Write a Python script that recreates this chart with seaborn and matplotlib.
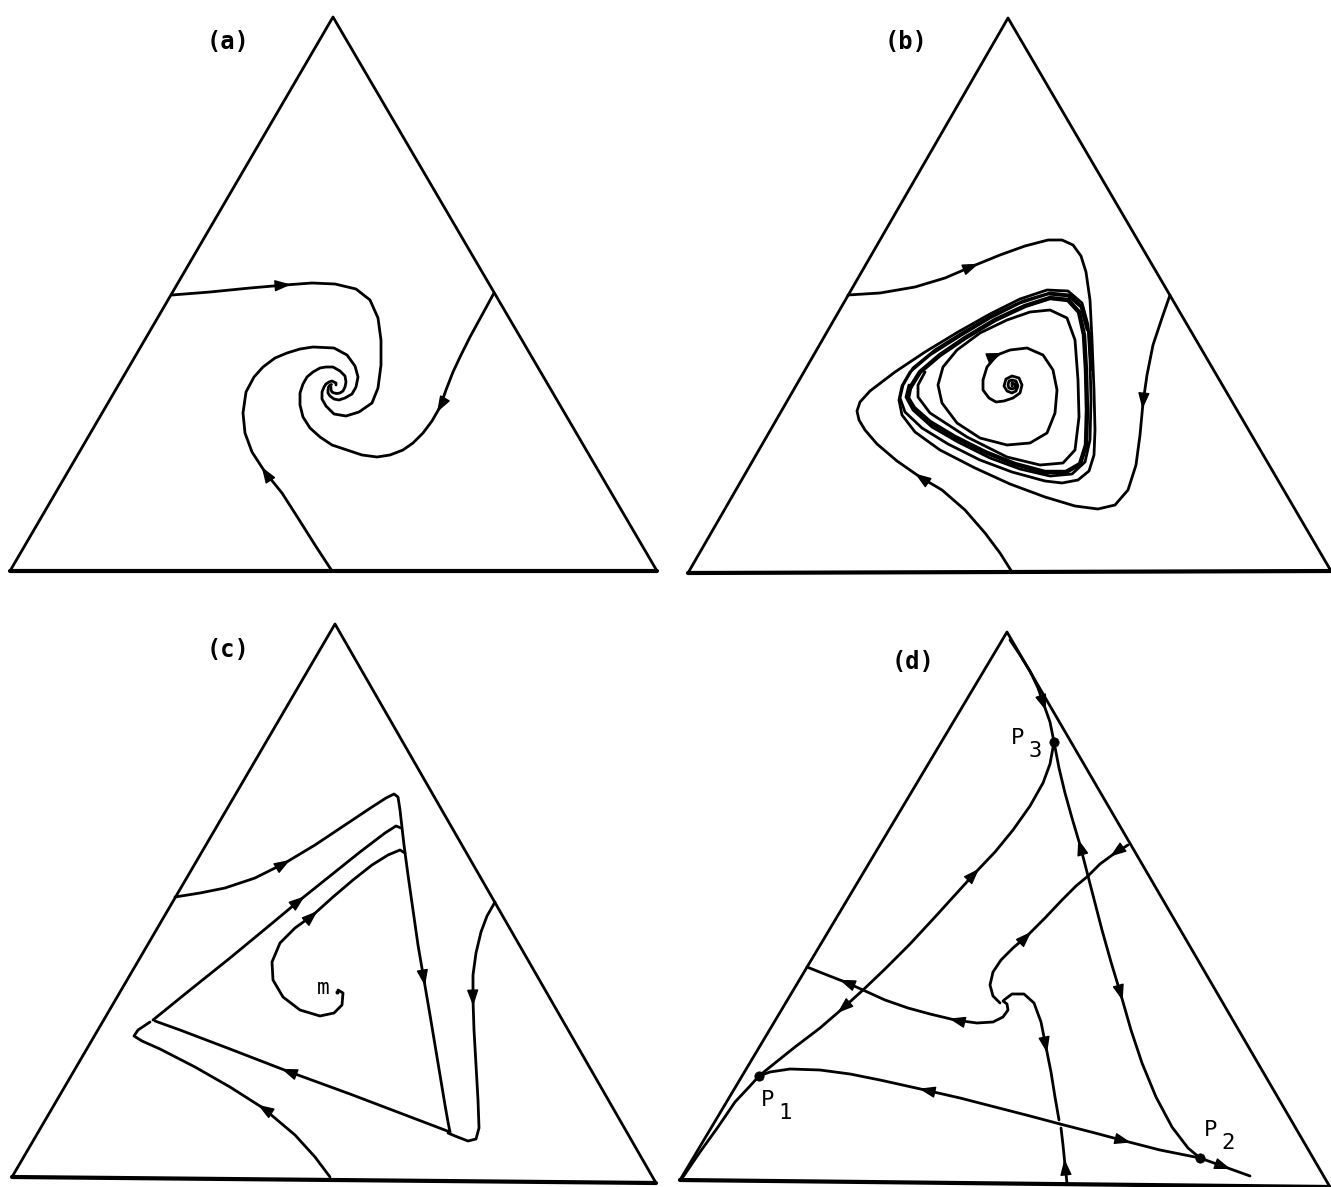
import numpy as np
import matplotlib
matplotlib.use("Agg")
import matplotlib.pyplot as plt
import seaborn as sns

# --- triangles (corners: apex, left, right), pixel coords of the scan ---
TRI_A = [(333, 17), (10, 571), (657, 571)]
TRI_B = [(1008, 18), (688, 573), (1331, 571)]
TRI_C = [(335, 624), (12, 1177), (656, 1183)]
TRI_D = [(1007, 632), (680, 1180), (1330, 1187)]

# --- panel (a): three trajectories spiralling into a stable focus ---
A_TOP = [(172, 295), (210, 292), (250, 288), (285, 285), (312, 283), (335, 284), (356, 289), (370, 300),
         (378, 318), (381, 340), (381, 365), (378, 388), (372, 403), (359, 412), (346, 416), (334, 414),
         (326, 406), (322, 399), (322, 392), (324, 387), (326, 384), (329, 382), (332, 381), (334, 382),
         (336, 383), (336, 385)]
A_LOW = [(332, 571), (315, 545), (298, 518), (282, 493), (265, 472), (252, 452), (245, 433), (243, 413),
         (246, 392), (254, 377), (263, 367), (275, 358), (287, 353), (300, 349), (313, 347), (334, 348),
         (347, 355), (355, 366), (358, 377), (356, 387), (352, 394), (345, 398), (339, 400), (334, 399),
         (330, 396), (328, 393), (328, 390), (328.5, 387), (330, 385), (331.5, 384.5)]
A_RIGHT = [(494, 293), (482, 315), (470, 337), (461, 355), (453, 372), (446, 390), (440, 407), (432, 421),
           (423, 433), (413, 443), (403, 450), (390, 455), (377, 457), (362, 455), (347, 450), (332, 445),
           (320, 437), (310, 428), (303, 417), (300, 405), (300, 393), (303, 384), (307, 377), (313, 372),
           (320, 368), (326, 367), (333, 367), (340, 371), (345, 376), (346, 382), (345, 387), (343, 391),
           (340, 393), (337, 393.5), (334, 393), (332, 392), (331, 390), (331, 387)]

# --- panel (b): unstable focus inside a limit cycle ---
B_SPIRAL = [(1012, 386), (1012, 383), (1015, 384), (1015, 388), (1012, 389), (1009, 388), (1008, 385),
            (1009, 381), (1012, 380), (1016, 381), (1018, 386), (1016, 391), (1012, 393), (1007, 391),
            (1004, 386), (1006, 379), (1012, 376), (1019, 378), (1022, 385), (1020, 393), (1013, 398),
            (1004, 401), (996, 402), (989, 398), (983, 390), (983, 380), (987, 367), (997, 355), (1010, 350),
            (1027, 348), (1043, 355), (1053, 370), (1057, 390), (1055, 413), (1047, 433), (1030, 443),
            (1007, 445), (980, 438), (957, 423), (942, 403), (938, 385), (943, 367), (957, 350), (980, 333),
            (1007, 320), (1030, 312), (1050, 310), (1067, 318), (1075, 340), (1078, 380), (1079, 417),
            (1075, 450), (1063, 463), (1040, 465), (1007, 457), (967, 437), (930, 413), (918, 397),
            (918, 385), (925, 372)]
B_CYCLE = [(910, 388), (920, 372), (940, 355), (965, 338), (995, 320), (1025, 306), (1050, 298), (1068, 300),
           (1079, 312), (1084, 335), (1086, 370), (1087, 410), (1086, 445), (1080, 464), (1066, 472),
           (1045, 472), (1015, 464), (985, 452), (955, 437), (930, 422), (914, 408), (908, 398), (910, 388)]
B_TOP = [(848, 295), (880, 293), (915, 287), (945, 278), (973, 266), (1000, 255), (1025, 246), (1048, 240),
         (1062, 240), (1073, 245), (1081, 256), (1086, 272), (1090, 300), (1092, 340), (1094, 390),
         (1095, 430), (1094, 455), (1089, 471), (1078, 480), (1062, 483), (1045, 481), (1012, 472),
         (980, 460), (948, 444), (922, 428), (905, 412), (900, 398), (903, 385), (913, 368), (935, 350),
         (962, 333), (993, 315), (1023, 301), (1050, 293), (1070, 295), (1083, 308), (1089, 333), (1091, 370)]
B_RIGHT = [(1170, 295), (1162, 318), (1153, 345), (1147, 375), (1143, 403), (1140, 435), (1136, 465),
           (1128, 490), (1115, 505), (1098, 509), (1075, 506), (1045, 497), (1010, 484), (975, 468),
           (940, 450), (915, 432), (902, 415), (899, 400), (902, 386), (910, 372), (930, 355), (960, 336),
           (990, 318), (1020, 303), (1048, 294), (1068, 296), (1081, 307), (1087, 330)]
B_LOW = [(1012, 572), (1000, 553), (985, 533), (965, 510), (942, 490), (920, 477), (897, 461), (877, 444),
         (865, 430), (859, 420), (857, 411), (860, 402), (870, 391), (895, 372), (925, 352), (958, 332),
         (990, 314), (1020, 299), (1047, 290), (1068, 291), (1082, 303), (1088, 325), (1090, 360),
         (1091, 400), (1090, 440), (1085, 462), (1072, 474), (1050, 476), (1020, 469), (990, 458),
         (958, 442), (932, 427), (913, 410), (906, 397), (909, 385)]

# --- panel (c): heteroclinic-like loop and the focus m ---
C_TOP = [(175, 897), (200, 893), (225, 888), (255, 878), (285, 863), (315, 845), (345, 825), (372, 807),
         (386, 798), (394, 794), (398, 797), (400, 810), (404, 845), (408, 875), (413, 910), (418, 945),
         (424, 980), (430, 1015), (435, 1045), (440, 1075), (445, 1105), (448, 1122), (450, 1132)]
C_MID = [(153, 1020), (190, 990), (230, 958), (270, 925), (300, 900), (330, 876), (360, 852), (385, 833),
         (396, 826), (401, 828)]
C_INNER = [(338, 990), (343, 993), (342, 1005), (334, 1013), (320, 1016), (300, 1010), (283, 997),
           (273, 980), (272, 962), (280, 943), (295, 928), (313, 915), (333, 897), (353, 880), (372, 865),
           (388, 855), (400, 850), (405, 853)]
C_LONG = [(450, 1132), (400, 1113), (350, 1094), (287, 1071), (230, 1049), (180, 1030), (155, 1021)]
C_LOW = [(330, 1177), (315, 1157), (295, 1135), (263, 1108), (230, 1087), (195, 1067), (160, 1049),
         (142, 1041), (134, 1036), (138, 1030), (150, 1022)]
C_RIGHT = [(495, 902), (487, 916), (481, 932), (476, 953), (473, 975), (473, 1000), (474, 1030), (476, 1065),
           (478, 1100), (479, 1128), (476, 1139), (468, 1141), (455, 1136), (448, 1133)]

# --- panel (d): saddles, focus and the points P1, P2, P3 ---
D_EDGE = [(683, 1177), (700, 1152), (718, 1127), (735, 1102), (750, 1086), (759, 1076)]
D_DIAG = [(759, 1076), (775, 1063), (795, 1047), (820, 1028), (842, 1009), (863, 990), (885, 969),
          (910, 944), (935, 917), (955, 895), (975, 873), (995, 852), (1013, 830), (1030, 806), (1043, 783),
          (1050, 764), (1054, 742)]
D_LEFT = [(807, 967), (822, 973), (845, 982), (863, 990), (885, 1000), (908, 1008), (930, 1014), (955, 1020),
          (977, 1023), (993, 1022), (1003, 1017), (1008, 1010), (1007, 1004), (1003, 1001)]
D_TOP = [(1010, 640), (1020, 655), (1030, 671), (1038, 688), (1044, 705), (1050, 722), (1054, 742),
         (1059, 768), (1065, 793), (1072, 818), (1080, 845), (1088, 876), (1095, 903), (1102, 930),
         (1111, 962), (1121, 995), (1131, 1030), (1142, 1063), (1156, 1097), (1172, 1127), (1188, 1148),
         (1200, 1158)]
D_RIGHT = [(1128, 845), (1115, 853), (1100, 864), (1088, 876)]
D_FOCUS_UP = [(1000, 1003), (993, 996), (990, 985), (993, 972), (1001, 960), (1013, 948), (1027, 936),
              (1045, 918), (1062, 900), (1076, 886), (1088, 876)]
D_FOCUS_DOWN = [(1004, 1000), (1012, 994), (1024, 994), (1034, 1003), (1041, 1022), (1046, 1047),
                (1051, 1072), (1055, 1097), (1059, 1120)]
D_BOT_L = [(1060, 1124), (1030, 1116), (995, 1107), (960, 1098), (925, 1090), (880, 1080), (850, 1074),
           (820, 1070), (790, 1069), (770, 1072), (759, 1076)]
D_BOT_R = [(1060, 1124), (1095, 1133), (1125, 1141), (1160, 1150), (1200, 1158), (1225, 1167), (1250, 1176)]
D_VERT = [(1067, 1183), (1065, 1165), (1063, 1145), (1061, 1128)]

P_POINTS = {"1": (759, 1076), "2": (1200, 1158), "3": (1054, 742)}
PANEL_LABELS = {"(a)": (228, 42), "(b)": (906, 42), "(c)": (228, 650), "(d)": (913, 662)}

# arrows: (curve, index, reversed)
ARROWS = [(A_TOP, 3, False), (A_LOW, 4, False), (A_RIGHT, 6, False),
          (B_TOP, 4, False), (B_LOW, 5, False), (B_RIGHT, 4, False), (B_SPIRAL, 27, False),
          (C_TOP, 4, False), (C_TOP, 16, False), (C_MID, 4, False), (C_INNER, 11, False),
          (C_LONG, 3, False), (C_LOW, 3, False), (C_RIGHT, 5, False),
          (D_DIAG, 3, True), (D_DIAG, 10, False), (D_LEFT, 1, True), (D_LEFT, 6, True),
          (D_TOP, 4, False), (D_TOP, 9, True), (D_TOP, 15, False), (D_RIGHT, 1, False),
          (D_FOCUS_UP, 6, False), (D_FOCUS_DOWN, 5, False), (D_BOT_L, 4, False),
          (D_BOT_R, 2, False), (D_BOT_R, 5, False), (D_VERT, 1, False)]

sns.set_style("white")
fig = plt.figure(figsize=(13.31, 11.87), dpi=100)
ax = fig.add_axes([0, 0, 1, 1])


def curve(pts, lw=2.0):
    xs = [p[0] for p in pts]
    ys = [p[1] for p in pts]
    line = sns.lineplot(x=xs, y=ys, sort=False, estimator=None, color="black", lw=lw, ax=ax)
    line.lines[-1].set_solid_joinstyle("round")


def arrow(pts, i, back=False):
    (x0, y0), (x1, y1) = pts[i], pts[i + 1]
    if back:
        x0, y0, x1, y1 = x1, y1, x0, y0
    n = np.hypot(x1 - x0, y1 - y0)
    ux, uy = (x1 - x0) / n, (y1 - y0) / n
    ax.annotate("", xy=(x0 + ux * 6, y0 + uy * 6), xytext=(x0 - ux * 4, y0 - uy * 4),
                arrowprops=dict(arrowstyle="-|>,head_length=0.9,head_width=0.32", mutation_scale=11,
                                color="black", lw=1.0, shrinkA=0, shrinkB=0))


for tri in [TRI_A, TRI_B, TRI_C, TRI_D]:
    curve([tri[1], tri[0], tri[2]], lw=2.0)
    curve([tri[1], tri[2]], lw=3.0)

for c in [A_TOP, A_LOW, A_RIGHT, B_SPIRAL, B_TOP, B_RIGHT, B_LOW,
          C_TOP, C_MID, C_INNER, C_LONG, C_LOW, C_RIGHT,
          D_EDGE, D_DIAG, D_LEFT, D_TOP, D_RIGHT, D_FOCUS_UP, D_FOCUS_DOWN, D_BOT_L, D_BOT_R, D_VERT]:
    curve(c)
curve(B_CYCLE, lw=3.2)

for c, i, back in ARROWS:
    arrow(c, i, back)

px = [p[0] for p in P_POINTS.values()]
py = [p[1] for p in P_POINTS.values()]
sns.scatterplot(x=px, y=py, s=45, color="black", edgecolor="black", ax=ax, zorder=5)
sns.scatterplot(x=[337], y=[992], s=10, color="black", ax=ax)

mono = "DejaVu Sans Mono"
for lab, (x, y) in PANEL_LABELS.items():
    ax.text(x, y, lab, fontsize=17, family=mono, weight="bold", color="black", ha="center", va="center")

# P labels with subscripts
for k, (x, y) in P_POINTS.items():
    off = {"1": (9, 24), "2": (11, -28), "3": (-36, -4)}[k]
    ax.text(x + off[0], y + off[1], "P", fontsize=16, family=mono, color="black", ha="center", va="center")
    ax.text(x + off[0] + 17, y + off[1] + 13, k, fontsize=16, family=mono, color="black",
            ha="center", va="center")
ax.text(323, 988, "m", fontsize=15, family=mono, color="black", ha="center", va="center")

ax.set_xlim(0, 1331)
ax.set_ylim(1187, 0)
ax.axis("off")
fig.savefig("out.png", dpi=100, facecolor="white")
